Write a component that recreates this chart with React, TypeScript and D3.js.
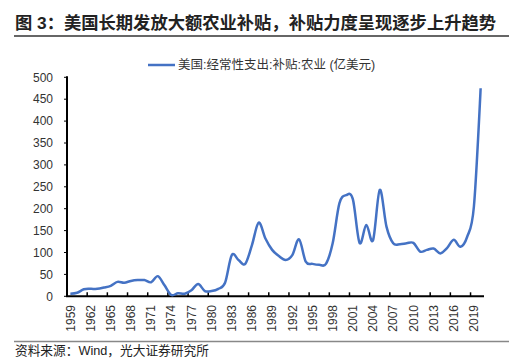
import React from 'react';
import * as d3 from 'd3';

// 美国:经常性支出:补贴:农业 (亿美元), 1959-2020
const years: number[] = d3.range(1959, 2021);
const subsidy: number[] = [
  6, 8, 16, 17, 17, 20, 24, 33, 31, 35,
  37, 37, 32, 46, 25, 3, 7, 6, 14, 28,
  12, 12, 17, 31, 94, 83, 74, 117, 168, 132,
  106, 92, 83, 94, 130, 79, 74, 72, 74, 121,
  212, 231, 222, 122, 163, 128, 243, 159, 121, 119,
  121, 122, 102, 106, 109, 98, 110, 129, 113, 136,
  205, 475,
];
const yTicks: number[] = [0, 50, 100, 150, 200, 250, 300, 350, 400, 450, 500];
const labelYears: number[] = years.filter((y) => (y - 1959) % 3 === 0);

const title = '图 3：美国长期发放大额农业补贴，补贴力度呈现逐步上升趋势';
const seriesName = '美国:经常性支出:补贴:农业 (亿美元)';
const source = '资料来源：Wind，光大证券研究所';

const W = 519;
const H = 361;
const font = '"Liberation Sans", "Noto Sans CJK SC", sans-serif';

export default function App() {
  const x = d3.scaleBand<number>().domain(years).range([67, 484]).padding(0);
  const y = d3.scaleLinear().domain([0, 500]).range([296.3, 77.3]);
  const cx = (yr: number) => (x(yr) as number) + x.bandwidth() / 2;

  const line = d3
    .line<number>()
    .x((_, i) => cx(years[i]))
    .y((d) => y(d))
    .curve(d3.curveCardinal.tension(0));

  const tickYears = labelYears.slice(1);

  return (
    <svg
      width={W}
      height={H}
      style={{ position: 'absolute', left: 0, top: 0, background: '#fff' }}
      fontFamily={font}
    >
      {/* title */}
      <text x={15} y={29} fontSize={17.3} fontWeight="bold" fill="#222">
        {title}
      </text>
      <line x1={14} x2={509} y1={36} y2={36} stroke="#333" strokeWidth={1.5} />

      {/* legend */}
      <line x1={148} x2={175} y1={65} y2={65} stroke="#4472C4" strokeWidth={2.5} />
      <text x={178} y={69} fontSize={12.5} fill="#333">
        {seriesName}
      </text>

      {/* y axis */}
      {yTicks.map((t) => (
        <g key={t}>
          <line x1={64} x2={67} y1={y(t)} y2={y(t)} stroke="#000" strokeWidth={1} />
          <text x={53} y={y(t)} dy="0.35em" textAnchor="end" fontSize={12} fill="#333">
            {t}
          </text>
        </g>
      ))}
      <line x1={67} x2={67} y1={y(500) - 1} y2={y(0)} stroke="#000" strokeWidth={2} />

      {/* x axis */}
      <line x1={66} x2={484} y1={y(0)} y2={y(0)} stroke="#000" strokeWidth={2} />
      {tickYears.map((yr) => (
        <line
          key={yr}
          x1={x(yr)}
          x2={x(yr)}
          y1={y(0) - 4}
          y2={y(0)}
          stroke="#000"
          strokeWidth={1.5}
        />
      ))}
      {labelYears.map((yr) => (
        <text
          key={yr}
          transform={`translate(${cx(yr)},${305}) rotate(-90)`}
          dy="0.35em"
          textAnchor="end"
          fontSize={12}
          fill="#333"
        >
          {yr}
        </text>
      ))}

      {/* series */}
      <path d={line(subsidy) || ''} fill="none" stroke="#4472C4" strokeWidth={2.5} strokeLinejoin="round" />

      {/* source */}
      <line x1={14} x2={509} y1={341.5} y2={341.5} stroke="#888" strokeWidth={1.5} />
      <text x={15} y={355} fontSize={12.7} fill="#222">
        {source}
      </text>
    </svg>
  );
}
